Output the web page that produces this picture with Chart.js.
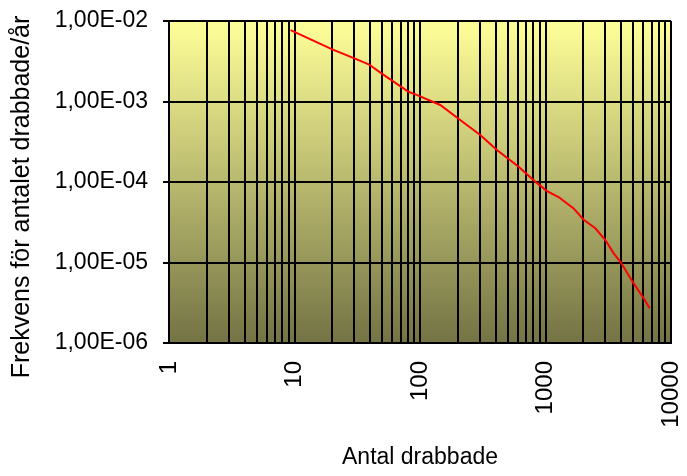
<!DOCTYPE html>
<html>
<head>
<meta charset="utf-8">
<script src="https://cdn.jsdelivr.net/npm/chart.js@4"></script>
<style>
  html, body { margin: 0; padding: 0; background: #fff; }
  canvas { display: block; }
</style>
</head>
<body>
<canvas id="frekvensChart" width="687" height="476"></canvas>
<script>
// antal drabbade (x) och frekvens per år (y)
const antalDrabbade = [9.3, 20, 30, 39, 50, 81, 95, 145, 209, 302, 410, 611, 829, 1028, 1271, 1675, 2014, 2495, 3000, 3493, 3953, 5044, 6057, 6761];
const frekvens = [7.7e-3, 4.45e-3, 3.44e-3, 2.9e-3, 2.2e-3, 1.32e-3, 1.2e-3, 9.05e-4, 5.89e-4, 3.84e-4, 2.5e-4, 1.55e-4, 1.01e-4, 7.7e-5, 6.5e-5, 4.7e-5, 3.4e-5, 2.66e-5, 1.9e-5, 1.3e-5, 1.02e-5, 5.5e-6, 3.6e-6, 2.7e-6];

// stödlinjer på x-axeln (1..10000, alla heltalssteg per dekad)
const xGrid = [1, 2, 3, 4, 5, 6, 7, 8, 9,
  10, 20, 30, 40, 50, 60, 70, 80, 90,
  100, 200, 300, 400, 500, 600, 700, 800, 900,
  1000, 2000, 3000, 4000, 5000, 6000, 7000, 8000, 9000, 10000];
const xLabelValues = [1, 10, 100, 1000, 10000];
const xLabels = ['1', '10', '100', '1000', '10000'];

const yTickValues = [1e-6, 1e-5, 1e-4, 1e-3, 1e-2];
const yLabels = ['1,00E-06', '1,00E-05', '1,00E-04', '1,00E-03', '1,00E-02'];

const yTitle = 'Frekvens för antalet drabbade/år';

const FONT = "'Liberation Sans', Arial, sans-serif";

// gul-oliv gradient bakom ritytan
const plotBackground = {
  id: 'plotBackground',
  beforeDraw(chart) {
    const { ctx, chartArea: a } = chart;
    const g = ctx.createLinearGradient(0, a.top, 0, a.bottom);
    g.addColorStop(0, '#ffff99');
    g.addColorStop(1, '#737345');
    ctx.save();
    ctx.fillStyle = g;
    ctx.fillRect(a.left, a.top, a.right - a.left, a.bottom - a.top);
    ctx.restore();
  }
};

// y-axelns rubrik, lite nedflyttad jämfört med ritytans mitt
const yAxisTitle = {
  id: 'yAxisTitle',
  afterDraw(chart) {
    const ctx = chart.ctx;
    ctx.save();
    ctx.translate(22, 197);
    ctx.rotate(-Math.PI / 2);
    ctx.font = '25px ' + FONT;
    ctx.fillStyle = '#000';
    ctx.textAlign = 'center';
    ctx.textBaseline = 'middle';
    ctx.fillText(yTitle, 0, 0);
    ctx.restore();
  }
};

// axlarna ska inte reservera extra plats för etiketter som sticker ut
function noOverhang(scale) {
  scale.paddingLeft = 0;
  scale.paddingRight = 0;
  scale.paddingTop = 0;
  scale.paddingBottom = 0;
}

const ctx = document.getElementById('frekvensChart').getContext('2d');

new Chart(ctx, {
  type: 'line',
  data: {
    datasets: [{
      data: antalDrabbade.map((x, i) => ({ x: x, y: frekvens[i] })),
      borderColor: '#ff0000',
      borderWidth: 2,
      pointRadius: 0,
      tension: 0,
      fill: false
    }]
  },
  options: {
    responsive: false,
    animation: false,
    events: [],
    layout: { padding: { top: 21, right: 16, left: 0, bottom: 0 } },
    plugins: {
      legend: { display: false },
      tooltip: { enabled: false }
    },
    scales: {
      x: {
        type: 'logarithmic',
        min: 1,
        max: 10000,
        afterBuildTicks: scale => { scale.ticks = xGrid.map(v => ({ value: v })); },
        afterFit: scale => { scale.height = 476 - 343; noOverhang(scale); },
        grid: { color: '#000', lineWidth: 2, drawTicks: false },
        border: { display: true, color: '#000', width: 2 },
        ticks: {
          autoSkip: false,
          minRotation: 90,
          maxRotation: 90,
          padding: 18,
          color: '#000',
          font: { family: FONT, size: 24 },
          callback: value => {
            const i = xLabelValues.indexOf(value);
            return i >= 0 ? xLabels[i] : '';
          }
        },
        title: {
          display: true,
          text: 'Antal drabbade',
          color: '#000',
          font: { family: FONT, size: 23 },
          padding: { top: 0, bottom: 5 }
        }
      },
      y: {
        type: 'logarithmic',
        min: 1e-6,
        max: 1e-2,
        afterBuildTicks: scale => { scale.ticks = yTickValues.map(v => ({ value: v })); },
        afterFit: scale => { scale.width = 169; noOverhang(scale); },
        grid: { color: '#000', lineWidth: 2, drawTicks: true, tickLength: 6 },
        border: { display: true, color: '#000', width: 2 },
        ticks: {
          padding: 15,
          color: '#000',
          font: { family: FONT, size: 23 },
          callback: value => {
            const i = yTickValues.indexOf(value);
            return i >= 0 ? yLabels[i] : '';
          }
        },
        title: { display: false }
      }
    }
  },
  plugins: [plotBackground, yAxisTitle]
});
</script>
</body>
</html>
